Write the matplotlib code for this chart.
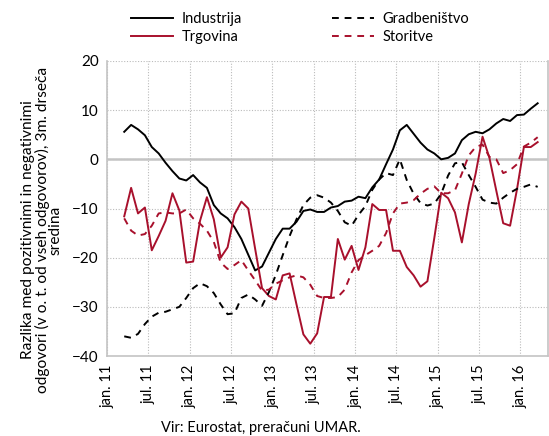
import numpy as np
import matplotlib
matplotlib.use('Agg')
import matplotlib.pyplot as plt

plt.rcParams['font.family'] = ['Lato', 'DejaVu Sans']

# podatki (mesecni, od mar. 2011 do mar. 2016), 3m drseca sredina
industrija = [5.6, 7.0, 6.1, 4.9, 2.5, 1.2, -0.7, -2.4, -3.9, -4.3, -3.2, -4.7, -5.8, -9.3,
              -11.0, -12.0, -13.8, -16.2, -19.4, -22.6, -21.8, -19.0, -16.2, -14.1, -14.1,
              -12.7, -10.5, -10.2, -10.7, -10.7, -9.8, -9.5, -8.6, -8.4, -7.6, -7.9, -5.7,
              -4.1, -1.0, 2.0, 5.9, 7.0, 5.2, 3.4, 2.0, 1.2, 0.0, 0.3, 1.2, 3.9, 5.1, 5.6,
              5.3, 6.1, 7.3, 8.2, 7.8, 9.0, 9.1, 10.3, 11.4]
trgovina = [-11.6, -5.8, -11.0, -9.8, -18.5, -15.6, -12.5, -6.9, -10.4, -21.0, -20.8, -12.5,
            -7.7, -12.2, -20.0, -17.9, -11.2, -8.6, -10.0, -18.2, -26.2, -27.8, -28.5, -23.6,
            -23.2, -29.5, -35.6, -37.5, -35.4, -28.0, -28.0, -16.2, -20.4, -17.6, -22.5,
            -17.9, -9.1, -10.3, -10.3, -18.6, -18.6, -21.9, -23.6, -25.9, -24.8, -16.0, -6.8,
            -7.9, -10.8, -16.9, -9.1, -2.9, 4.6, 0.3, -6.4, -13.0, -13.5, -6.1, 2.5, 2.5, 3.5]
gradbenistvo = [-36.0, -36.3, -35.5, -33.5, -32.0, -31.2, -31.0, -30.5, -30.0, -28.2, -26.2,
                -25.2, -25.8, -27.2, -29.5, -31.5, -31.3, -28.2, -27.5, -28.5, -29.8, -27.0,
                -23.5, -19.5, -15.6, -12.2, -9.3, -7.8, -7.3, -7.8, -8.8, -10.5, -12.8, -13.5,
                -11.3, -9.5, -6.2, -4.1, -2.8, -3.2, 0.0, -4.2, -7.0, -8.9, -9.4, -9.0, -7.0,
                -3.3, -0.8, -0.6, -3.2, -5.6, -8.2, -8.8, -9.0, -7.8, -6.8, -6.0, -5.6, -5.1,
                -5.6]
storitve = [-12.0, -14.5, -15.5, -15.2, -13.5, -11.0, -10.8, -11.0, -11.0, -10.2, -12.0, -13.1,
            -14.5, -16.8, -21.0, -22.3, -21.5, -20.5, -22.6, -24.6, -26.7, -26.5, -25.3, -24.6,
            -24.0, -23.6, -24.0, -25.5, -27.8, -28.2, -28.2, -28.0, -26.5, -23.0, -20.5, -19.5,
            -18.6, -17.6, -15.0, -11.0, -9.0, -8.8, -8.3, -7.0, -6.0, -5.5, -6.9, -6.9, -6.3,
            -2.9, 0.8, 2.5, 3.0, 0.5, 0.0, -2.8, -2.2, -1.0, 2.6, 3.4, 4.5]
tick_labels = ['jan. 11', 'jul. 11', 'jan. 12', 'jul. 12', 'jan. 13', 'jul. 13',
               'jan. 14', 'jul. 14', 'jan. 15', 'jul. 15', 'jan. 16']

rdeca = '#A8102C'
# prvi podatek je marec 2011 (indeks 2), tocke na sredini meseca
x = np.arange(len(industrija)) + 2 + 0.5

fig = plt.figure(figsize=(5.49, 4.36), dpi=100)
ax = fig.add_axes([107 / 549, 1 - 356 / 436, 441 / 549, 295 / 436])

lw = 1.4
ax.plot(x, industrija, color='black', lw=lw, label='Industrija')
ax.plot(x, trgovina, color=rdeca, lw=lw, label='Trgovina')
ax.plot(x, gradbenistvo, color='black', lw=lw, ls=(0, (3.5, 3)), label='Gradbeništvo')
ax.plot(x, storitve, color=rdeca, lw=lw, ls=(0, (3.5, 3)), label='Storitve')

ax.set_xlim(0, 64)
ax.set_ylim(-40, 20)
ax.set_yticks(range(-40, 21, 10))
ax.set_xticks(range(0, 61, 6))
ax.set_xticklabels(tick_labels, rotation=90, fontsize=10.5)
ax.tick_params(axis='y', labelsize=11)
ax.tick_params(length=0, pad=6)

ax.grid(True, color='#bbbbbb', ls=(0, (1, 1.5)), lw=0.8)
ax.set_axisbelow(True)
ax.axhline(0, color='#c4c4c4', lw=1.8, zorder=1)
ax.spines['top'].set_visible(False)
for s in ['left', 'bottom', 'right']:
    ax.spines[s].set_color('#c4c4c4')
    ax.spines[s].set_linewidth(1.2)

fig.text(42 / 549, 1 - 230 / 436,
         'Razlika med pozitivnimi in negativnimi\nodgovori (v o. t. od vseh odgovorov), 3m. drseča\nsredina',
         rotation=90, ha='center', va='center', fontsize=11.2, linespacing=0.95)

fig.legend(loc='upper left', bbox_to_anchor=(131 / 549, 1 - 12 / 436), ncol=2, frameon=False,
           fontsize=10.5, handlelength=2.9, handletextpad=0.55, columnspacing=6.2,
           labelspacing=0.3, borderpad=0, borderaxespad=0)

fig.text(261 / 549, 1 - 428 / 436, 'Vir: Eurostat, preračuni UMAR.', ha='center', va='center',
         fontsize=10.5)

plt.savefig('out.png', dpi=100)
